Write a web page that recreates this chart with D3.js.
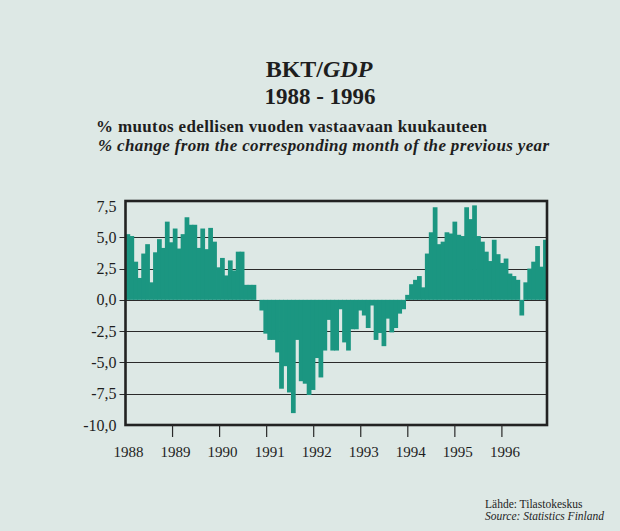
<!DOCTYPE html>
<html>
<head>
<meta charset="utf-8">
<script src="https://cdn.jsdelivr.net/npm/d3@7"></script>
<style>
  body { margin: 0; background: #dde8e5; }
  svg { display: block; }
  text { font-family: "Liberation Serif", "Times New Roman", serif; fill: #1e1e1e; }
</style>
</head>
<body>
<div id="chart"></div>
<script>
// monthly % change, Jan 1988 .. Nov 1996
var v1988 = [5.25, 5.1, 3.05, 1.75, 3.7, 4.45, 1.4, 3.8, 4.85, 4.15, 6.25, 4.6];
var v1989 = [5.7, 4.1, 5.25, 6.6, 6.0, 6.0, 4.15, 5.7, 4.05, 5.75, 4.65, 2.6];
var v1990 = [3.35, 1.95, 3.15, 2.35, 3.85, 3.85, 1.2, 1.2, 1.2, 0.0, -0.85, -2.7];
var v1991 = [-3.2, -3.2, -4.2, -7.1, -5.3, -7.4, -9.05, -3.2, -6.5, -6.7, -7.6, -7.2];
var v1992 = [-4.65, -6.2, -4.05, -1.6, -4.05, -4.05, -0.75, -3.4, -4.05, -2.35, -2.35, -0.85];
var v1993 = [-1.25, -2.25, -0.45, -3.2, -2.65, -3.7, -1.5, -2.6, -2.25, -1.1, -0.75, 0.4];
var v1994 = [1.25, 1.6, 1.9, 1.0, 3.7, 5.4, 7.4, 4.45, 4.65, 5.4, 5.3, 6.25];
var v1995 = [5.2, 5.1, 7.4, 6.45, 7.55, 5.1, 4.65, 3.85, 3.1, 4.8, 3.65, 2.95];
var v1996 = [3.3, 2.1, 1.9, 1.6, -1.25, 1.4, 2.5, 3.05, 4.3, 2.65, 4.8];

var years = [1988, 1989, 1990, 1991, 1992, 1993, 1994, 1995, 1996];
var yTicks = [7.5, 5.0, 2.5, 0.0, -2.5, -5.0, -7.5, -10.0];

var values = [].concat(v1988, v1989, v1990, v1991, v1992, v1993, v1994, v1995, v1996);

var W = 620, H = 531;
var svg = d3.select("#chart").append("svg")
    .attr("width", W)
    .attr("height", H);

svg.append("rect")
    .attr("width", W)
    .attr("height", H)
    .attr("fill", "#dde8e5");

var pLeft = 125.5, pRight = 547, pTop = 206, pBottom = 425;

var x = d3.scaleBand()
    .domain(d3.range(values.length))
    .range([pLeft, pRight])
    .paddingInner(0);

var xYear = d3.scaleLinear()
    .domain([1988, 1997])
    .range([pLeft, pLeft + 9 * 47.05]);

var y = d3.scaleLinear()
    .domain([-10, 7.5])
    .range([pBottom, pTop]);

var fi = d3.formatLocale({decimal: ",", thousands: " ", grouping: [3], currency: ["", ""], minus: "-"});
var fmt = fi.format(".1f");

// gridlines (with a short stub left of the frame)
svg.append("g")
    .selectAll("line")
    .data(yTicks.filter(function(d) { return d > -10 && d < 7.5; }))
  .join("line")
    .attr("x1", pLeft - 6)
    .attr("x2", pRight)
    .attr("y1", function(d) { return Math.round(y(d)) + 0.5; })
    .attr("y2", function(d) { return Math.round(y(d)) + 0.5; })
    .attr("stroke", "#2a2a2a")
    .attr("stroke-width", 1.1);

// bars (slight overlap so no seams show)
svg.append("g")
    .selectAll("rect")
    .data(values)
  .join("rect")
    .attr("x", function(d, i) { return x(i); })
    .attr("width", function(d, i) { return i < values.length - 1 ? x.bandwidth() + 0.8 : x.bandwidth(); })
    .attr("y", function(d) { return y(Math.max(0, d)); })
    .attr("height", function(d) { return Math.abs(y(d) - y(0)); })
    .attr("fill", "#1b9681");

// frame
svg.append("rect")
    .attr("x", pLeft)
    .attr("y", pTop - 5)
    .attr("width", pRight - pLeft)
    .attr("height", pBottom - pTop + 5)
    .attr("fill", "none")
    .attr("stroke", "#222")
    .attr("stroke-width", 2.6);

// y labels
svg.append("g")
    .selectAll("text")
    .data(yTicks)
  .join("text")
    .attr("x", pLeft - 9)
    .attr("y", function(d) { return y(d); })
    .attr("dy", "0.35em")
    .attr("text-anchor", "end")
    .style("font-size", "16px")
    .text(function(d) { return fmt(d); });

// x ticks and labels
svg.append("g")
    .selectAll("line")
    .data(years.slice(1))
  .join("line")
    .attr("x1", function(d) { return xYear(d); })
    .attr("x2", function(d) { return xYear(d); })
    .attr("y1", pBottom)
    .attr("y2", pBottom + 12)
    .attr("stroke", "#2a2a2a")
    .attr("stroke-width", 1.2);

svg.append("g")
    .selectAll("text")
    .data(years)
  .join("text")
    .attr("x", function(d) { return xYear(d) + 3; })
    .attr("y", pBottom + 32)
    .attr("text-anchor", "middle")
    .style("font-size", "15px")
    .text(function(d) { return d; });

// titles
var t = svg.append("text")
    .attr("x", 319)
    .attr("y", 77)
    .attr("text-anchor", "middle")
    .style("font-size", "24px")
    .style("font-weight", "bold");
t.append("tspan").text("BKT/");
t.append("tspan").style("font-style", "italic").text("GDP");

svg.append("text")
    .attr("x", 320)
    .attr("y", 104)
    .attr("text-anchor", "middle")
    .style("font-size", "23px")
    .style("font-weight", "bold")
    .text("1988 - 1996");

svg.append("text")
    .attr("x", 96)
    .attr("y", 132)
    .attr("textLength", 391)
    .attr("lengthAdjust", "spacing")
    .style("font-size", "17px")
    .style("font-weight", "bold")
    .text("% muutos edellisen vuoden vastaavaan kuukauteen");

svg.append("text")
    .attr("x", 98)
    .attr("y", 151)
    .attr("textLength", 451)
    .attr("lengthAdjust", "spacing")
    .style("font-size", "17px")
    .style("font-weight", "bold")
    .style("font-style", "italic")
    .text("% change from the corresponding month of the previous year");

// source
svg.append("text")
    .attr("x", 485)
    .attr("y", 508)
    .style("font-size", "11.5px")
    .text("Lähde: Tilastokeskus");

svg.append("text")
    .attr("x", 485)
    .attr("y", 520)
    .style("font-size", "11.5px")
    .style("font-style", "italic")
    .text("Source: Statistics Finland");
</script>
</body>
</html>
